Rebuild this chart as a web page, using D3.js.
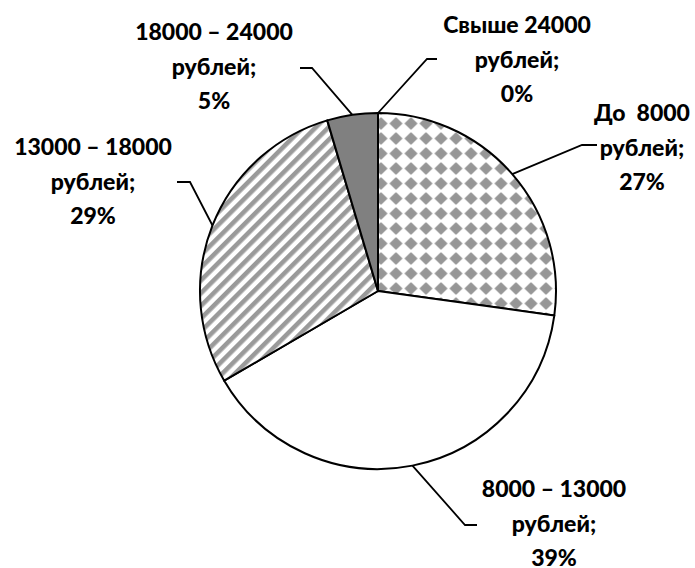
<!DOCTYPE html>
<html>
<head>
<meta charset="utf-8">
<script src="https://cdn.jsdelivr.net/npm/d3@7"></script>
<style>
  body { margin: 0; background: #fff; }
  text { font-family: Lato, "Liberation Sans", sans-serif; font-weight: 900; fill: #000; }
</style>
</head>
<body>
<div id="chart-area"></div>
<script>
// Data
var categories = ["До  8000", "8000 – 13000", "13000 – 18000", "18000 – 24000", "Свыше 24000"];
var shares = [27.2, 39.4, 28.8, 4.6, 0];
var fills = ["url(#diamonds)", "#ffffff", "url(#stripes)", "#808080", "#ffffff"];

var width = 695;
var height = 568;
var radius = 178;
var cx = 378, cy = 291;

// label layout: centre x, first baseline y, leader elbow and leader end
var labelPos = [
	{ x: 642, y: 121, elbow: [582, 145], end: [597, 145] },
	{ x: 554, y: 497, elbow: [465, 525], end: [477, 525] },
	{ x: 93,  y: 155, elbow: [190, 182], end: [177, 182] },
	{ x: 214, y: 40,  elbow: [312, 68],  end: [300, 68] },
	{ x: 517, y: 33,  elbow: [427, 59],  end: [437, 59] }
];
var lineStep = 34.5;

var svg = d3.select("#chart-area").append("svg")
	.attr("width", width)
	.attr("height", height);

var defs = svg.append("defs");

// diamond pattern
var pd = defs.append("pattern")
	.attr("id", "diamonds")
	.attr("patternUnits", "userSpaceOnUse")
	.attr("x", cx - 7.5)
	.attr("y", cy - 1)
	.attr("width", 15)
	.attr("height", 15);
pd.append("rect").attr("width", 15).attr("height", 15).attr("fill", "#fff");
pd.append("path")
	.attr("d", "M7.5,1.8 L13.2,7.5 L7.5,13.2 L1.8,7.5 Z")
	.attr("fill", "#969696")
	.attr("stroke", "#969696")
	.attr("stroke-width", 1.2)
	.attr("stroke-linejoin", "round");

// stripe pattern
var ps = defs.append("pattern")
	.attr("id", "stripes")
	.attr("patternUnits", "userSpaceOnUse")
	.attr("width", 9)
	.attr("height", 9)
	.attr("patternTransform", "rotate(45)");
ps.append("rect").attr("width", 9).attr("height", 9).attr("fill", "#fff");
ps.append("rect").attr("width", 4.6).attr("height", 9).attr("fill", "#9a9a9a");

var g = svg.append("g")
	.attr("transform", "translate(" + cx + ", " + cy + ")");

var pie = d3.pie()
	.sort(null)
	.value((d) => d);

var arc = d3.arc()
	.innerRadius(0)
	.outerRadius(radius);

var arcs = pie(shares);

g.selectAll("path.slice")
	.data(arcs)
	.enter().append("path")
	.attr("class", "slice")
	.attr("d", arc)
	.attr("fill", (d, i) => fills[i])
	.attr("stroke", "#000")
	.attr("stroke-width", 2)
	.attr("stroke-linejoin", "round");

// leader lines and labels
arcs.forEach((d, i) => {
	var a = (d.startAngle + d.endAngle) / 2;
	var p0 = [cx + radius * Math.sin(a), cy - radius * Math.cos(a)];
	var lp = labelPos[i];
	svg.append("polyline")
		.attr("points", [p0, lp.elbow, lp.end].map((p) => p.join(",")).join(" "))
		.attr("fill", "none")
		.attr("stroke", "#000")
		.attr("stroke-width", 1.8);

	var lines = [categories[i], "рублей;", Math.round(shares[i]) + "%"];
	var t = svg.append("text")
		.attr("text-anchor", "middle")
		.style("font-size", "23px");
	lines.forEach((s, k) => {
		t.append("tspan")
			.attr("x", lp.x)
			.attr("y", lp.y + k * lineStep)
			.attr("xml:space", "preserve")
			.text(s);
	});
});
</script>
</body>
</html>
